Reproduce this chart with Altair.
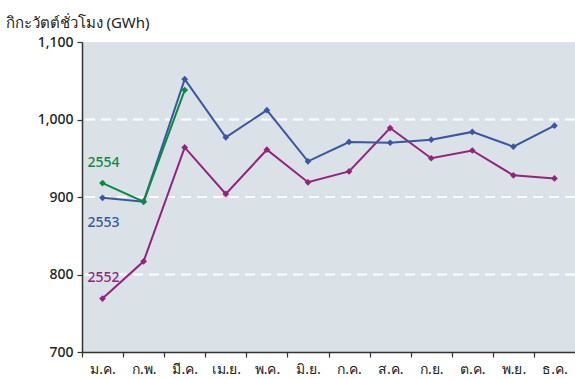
import altair as alt
import pandas as pd

months = ["ม.ค.", "ก.พ.", "มี.ค.", "เม.ย.", "พ.ค.", "มิ.ย.", "ก.ค.", "ส.ค.", "ก.ย.", "ต.ค.", "พ.ย.", "ธ.ค."]
y2552 = [769, 817, 964, 904, 961, 919, 933, 989, 950, 960, 928, 924]
y2553 = [899, 894, 1052, 977, 1012, 946, 971, 970, 974, 984, 965, 992]
y2554 = [918, 894, 1038]

series = ["2552", "2553", "2554"]
colors = ["#93237f", "#3a55a4", "#0a8a45"]
label_y = [796, 867, 944]
y_ticks = [700, 800, 900, 1000, 1100]
grid_vals = [800, 900, 1000]

rows = []
for s, vals in zip(series, [y2552, y2553, y2554]):
    for m, v in zip(months, vals):
        rows.append({"month": m, "value": v, "series": s})
df = pd.DataFrame(rows)
lab = pd.DataFrame({"month": [months[0]] * 3, "value": label_y, "series": series})
grid_df = pd.DataFrame({"value": grid_vals})

FONT = "Noto Sans"
xenc = alt.X("month:N", sort=months, scale=alt.Scale(paddingInner=0, paddingOuter=0),
             axis=alt.Axis(title=None, tickBand="extent", labelAngle=0, labelFontSize=14,
                           labelColor="#222222", labelFont=FONT, labelPadding=5,
                           domainColor="#333333", domainWidth=1.5, tickColor="#333333",
                           tickSize=5, tickWidth=1.2, grid=False))
yscale = alt.Scale(domain=[700, 1100], nice=False, zero=False)
yenc = alt.Y("value:Q", scale=yscale,
             axis=alt.Axis(values=y_ticks, format=",.0f", labelFontSize=14,
                           labelColor="#222222", labelFont=FONT, labelPadding=4,
                           labelFontWeight=500,
                           domainColor="#333333", domainWidth=1.5, tickColor="#333333",
                           tickSize=5, tickWidth=1.2, grid=False,
                           title="กิกะวัตต์ชั่วโมง (GWh)", titleAngle=0, titleAlign="left",
                           titleBaseline="alphabetic", titleX=-77, titleY=-15,
                           titleFontSize=15, titleFontWeight="normal", titleColor="#222222",
                           titleFont=FONT))
color = alt.Color("series:N", scale=alt.Scale(domain=series, range=colors), legend=None)

grid = alt.Chart(grid_df).mark_rule(color="white", strokeWidth=2, strokeDash=[10, 6]).encode(
    y=alt.Y("value:Q", scale=yscale))
base = alt.Chart(df)
lines = base.mark_line(strokeWidth=2).encode(x=xenc, y=yenc, color=color)
pts = base.mark_point(shape="diamond", filled=True, size=45, opacity=1).encode(x=xenc, y=yenc, color=color)
texts = alt.Chart(lab).mark_text(align="left", baseline="middle", dx=-15, fontSize=14,
                                 font=FONT, fontWeight=500).encode(
    x=alt.X("month:N", sort=months), y="value:Q", text="series:N", color=color)

chart = alt.layer(grid, lines, pts, texts).properties(
    width=493, height=310,
    padding={"left": 82, "top": 42, "right": 0, "bottom": 27},
    autosize=alt.AutoSizeParams(type="none"),
    background="white",
).configure_view(fill="#dae2e8", stroke=None)

chart.save("out.html", embed_options={"renderer": "svg", "actions": False})
